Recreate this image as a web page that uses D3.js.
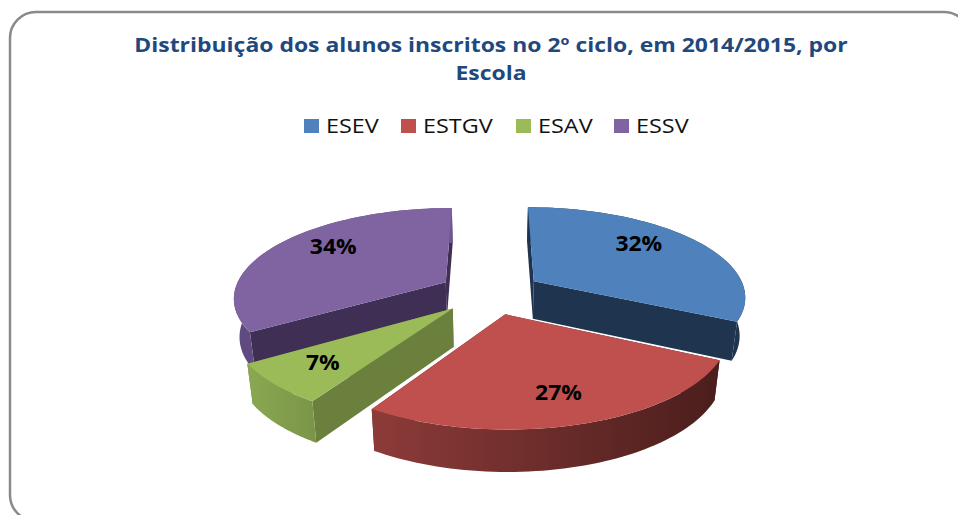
<!DOCTYPE html>
<html><head><meta charset="utf-8">
<script src="https://cdn.jsdelivr.net/npm/d3@7"></script>
<style>html,body{margin:0;padding:0;background:#fff}svg{display:block}</style>
</head><body><svg id="c" width="958" height="515"></svg>
<script>
const titleLines = ["Distribuição dos alunos inscritos no 2º ciclo, em 2014/2015, por", "Escola"];
const categories = ["ESEV", "ESTGV", "ESAV", "ESSV"];
const values = [32.3, 26.6, 7.1, 34];
const topColors = ["#4f81bd", "#c0504d", "#9bbb59", "#8064a2"];
const edgeColors = ["#1f344f", "#5a2422", "#6c803e", "#3f2f55"];
const rimStops = [["#1f344f","#1f344f"], ["#8d3b39","#4a1e1c"], ["#8aa852","#7a9548"], ["#5f4a80","#6e5692"]];

const svg = d3.select("#c");
svg.append("rect").attr("x",10).attr("y",12).attr("width",960).attr("height",509).attr("rx",26)
  .attr("fill","#fff").attr("stroke","#8a8a8a").attr("stroke-width",2.5);

const stretch=(sel,f)=>sel.each(function(){
  this.setAttribute("textLength",this.getComputedTextLength()*f);
  this.setAttribute("lengthAdjust","spacingAndGlyphs");
});

svg.selectAll("text.t").data(titleLines).join("text").attr("class","t")
  .attr("x",491).attr("y",(d,i)=>52+i*28).attr("text-anchor","middle")
  .attr("font-family","'Open Sans',sans-serif").attr("font-weight",700).attr("font-size",19.5)
  .attr("fill","#1f497d").text(d=>d).call(stretch,1.176);

const legendX = d3.scaleOrdinal().domain(categories).range([304,401,516,614]);
const lg = svg.selectAll("g.l").data(categories).join("g").attr("class","l")
  .attr("transform",d=>`translate(${legendX(d)},119)`);
lg.append("rect").attr("width",15).attr("height",14).attr("fill",(d,i)=>topColors[i]);
lg.append("text").attr("x",22).attr("y",14).attr("font-family","'Open Sans',sans-serif")
  .attr("font-size",19.5).attr("fill","#111").text(d=>d).call(stretch,1.2);

// 3D projection of the pie plane
const cx=490.5, cy=292.5, R=212, explode=52, tilt=0.42, persp=0.000752, depth=38, taper=0.978;
const scale=Y=>1/(1-persp*Y);
const proj=(X,Y)=>[cx+X*scale(Y), cy+Y*tilt*scale(Y)];
const drop=Y=>depth*Math.sqrt(scale(Y));
const pie=d3.pie().sort(null).value(d=>d);
const arcs=pie(values);
const line=d3.line();

function world(a,mid,r){
  return [explode*Math.sin(mid)+r*Math.sin(a), -explode*Math.cos(mid)-r*Math.cos(a)];
}
const P=w=>proj(w[0],w[1]);
const B=w=>{const p=proj(w[0],w[1]);return [cx+(p[0]-cx)*taper,p[1]+drop(w[1])];};

const defs=svg.append("defs");
rimStops.forEach((s,i)=>{
  const g=defs.append("linearGradient").attr("id","rim"+i);
  g.append("stop").attr("offset","0%").attr("stop-color",s[0]);
  g.append("stop").attr("offset","100%").attr("stop-color",s[1]);
});

const labelRadius=[0.64,0.75,0.75,0.66], labelLift=[-10,0,-1,-10];
const order=[3,0,1,2];
order.forEach(i=>{
  const a=arcs[i], mid=(a.startAngle+a.endAngle)/2;
  const samples=d3.range(0,61).map(k=>a.startAngle+(a.endAngle-a.startAngle)*k/60);
  const rim=samples.map(t=>world(t,mid,R));
  const apex=world(0,mid,0);
  const g=svg.append("g");
  [rim[0],rim[60]].forEach(e=>{
    g.append("path").attr("d",line([P(apex),P(e),B(e),B(apex)])+"Z").attr("fill",edgeColors[i]);
  });
  g.append("path").attr("d",line(rim.map(P).concat(rim.map(B).reverse()))+"Z").attr("fill",`url(#rim${i})`);
  g.append("path").attr("d",line([P(apex)].concat(rim.map(P)))+"Z").attr("fill",topColors[i]);
  const lp=P(world(mid,mid,R*labelRadius[i]));
  g.append("text").attr("x",lp[0]).attr("y",lp[1]+labelLift[i]).attr("text-anchor","middle").attr("dy","0.35em")
    .attr("font-family","'Open Sans',sans-serif").attr("font-weight",700).attr("font-size",21)
    .attr("fill","#000").text(Math.round(values[i])+"%").call(stretch,1.09);
});
</script></body></html>
